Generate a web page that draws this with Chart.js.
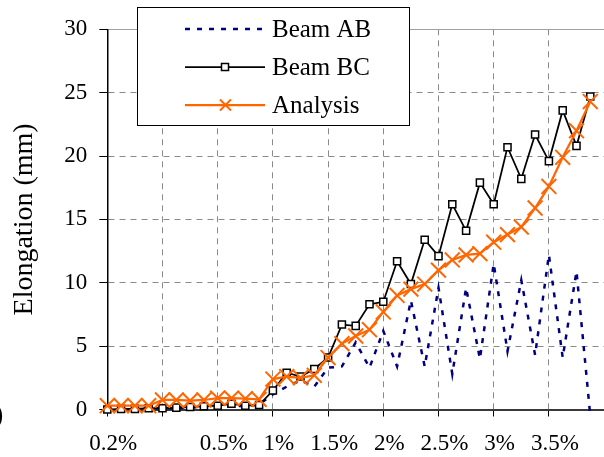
<!DOCTYPE html>
<html><head><meta charset="utf-8">
<script src="https://cdn.jsdelivr.net/npm/chart.js@4.4.1/dist/chart.umd.min.js"></script>
<style>
html,body{margin:0;padding:0;overflow:hidden;background:#fff;width:604px;height:457px}
#wrap{width:604px;height:457px;overflow:hidden;position:relative}
canvas{display:block}
</style></head>
<body><div id="wrap"><canvas id="c" width="617" height="457" style="width:617px;height:457px"></canvas></div>
<script>
// Category labels (drift steps); blanks are unlabelled steps
const categories = ['0.2%','','','','','','','','0.5%','','','','1%','','','','1.5%','','','','2%','','','','2.5%','','','','3%','','','','3.5%','','','',''];
const beamAB = [0, 0, 0.05, 0.05, 0.1, 0.1, 0.15, 0.2, 0.1, 0.3, 0.25, 0.4, 1.2, 1.8, 2.3, 1.8, 3.3, 3.4, 5.3, 3.3, 6.2, 3.4, 8.6, 3.4, 9.6, 2.8, 9.6, 4.0, 11.5, 4.6, 10.2, 4.3, 12.2, 4.1, 10.9, -0.5];
const beamBC = [0, 0.05, 0.05, 0.1, 0.1, 0.15, 0.2, 0.25, 0.3, 0.45, 0.3, 0.35, 1.5, 2.9, 2.6, 3.2, 4.1, 6.7, 6.6, 8.3, 8.5, 11.7, 9.9, 13.4, 12.1, 16.2, 14.1, 17.9, 16.2, 20.7, 18.2, 21.7, 19.6, 23.6, 20.8, 24.7];
const analysis = [0.3, 0.3, 0.3, 0.3, 0.75, 0.75, 0.7, 0.75, 0.9, 0.9, 0.85, 0.8, 2.4, 2.6, 2.5, 2.7, 4.1, 5.2, 5.8, 6.3, 7.7, 9.0, 9.5, 9.9, 11.0, 11.8, 12.2, 12.3, 13.2, 13.8, 14.4, 15.9, 17.6, 19.9, 22.0, 24.3];
const seriesNames = ['Beam AB', 'Beam BC', 'Analysis'];
const yMin = 0, yMax = 30, yStep = 5;

const FONT = '"Liberation Serif", "Times New Roman", serif';
const GRID = '#8a8a8a';
const CLEAR = 'rgba(0,0,0,0)';
const CANVAS_W = 617, PLOT_LEFT = 107.3, PLOT_RIGHT = 604.1, PLOT_TOP = 29.3, PLOT_BOTTOM = 409.5, CANVAS_H = 457;

const boxLegend = {
  id: 'boxLegend',
  afterDraw(chart) {
    const ctx = chart.ctx;
    ctx.save();
    ctx.fillStyle = '#fff';
    ctx.fillRect(137.5, 7.5, 272, 118);
    ctx.strokeStyle = '#000'; ctx.lineWidth = 1;
    ctx.strokeRect(137.5, 7.5, 272, 118);
    const rows = [29, 67, 105];
    chart.data.datasets.forEach((ds, i) => {
      const y = rows[i];
      ctx.save();
      ctx.strokeStyle = ds.borderColor; ctx.lineWidth = ds.borderWidth;
      ctx.setLineDash(ds.borderDash || []);
      ctx.beginPath(); ctx.moveTo(185, y); ctx.lineTo(265, y); ctx.stroke();
      ctx.restore();
      if (ds.pointStyle === 'rect') {
        ctx.fillStyle = '#fff'; ctx.strokeStyle = '#000'; ctx.lineWidth = 1.5;
        ctx.fillRect(221.5, y - 3.5, 7, 7); ctx.strokeRect(221.5, y - 3.5, 7, 7);
      } else if (ds.pointStyle === 'crossRot') {
        ctx.strokeStyle = ds.borderColor; ctx.lineWidth = 2;
        ctx.beginPath();
        ctx.moveTo(220, y - 5.5); ctx.lineTo(231, y + 5.5);
        ctx.moveTo(231, y - 5.5); ctx.lineTo(220, y + 5.5);
        ctx.stroke();
      }
      ctx.fillStyle = '#000';
      ctx.font = '25px ' + FONT;
      ctx.textBaseline = 'middle'; ctx.textAlign = 'left';
      ctx.fillText(ds.label, 272, y + 1);
    });
    ctx.font = '28px ' + FONT;
    ctx.fillText(')', -6, 416);
    ctx.restore();
  }
};

new Chart(document.getElementById('c'), {
  type: 'line',
  data: {
    labels: categories,
    datasets: [
      {label: seriesNames[0], data: beamAB, borderColor: '#000080', borderWidth: 2.5, borderDash: [5, 7],
       pointRadius: 0, pointHoverRadius: 0, tension: 0, clip: false, order: 2, fill: false},
      {label: seriesNames[1], data: beamBC, borderColor: '#000', borderWidth: 1.75, pointStyle: 'rect',
       pointRadius: 5, pointHoverRadius: 5, pointBorderWidth: 1.5, pointBorderColor: '#000', pointBackgroundColor: '#fff',
       tension: 0, clip: false, order: 1, fill: false},
      {label: seriesNames[2], data: analysis, borderColor: '#ff6600', borderWidth: 2.25, pointStyle: 'crossRot',
       pointRadius: 10.5, pointHoverRadius: 10.5, pointBorderWidth: 2, pointBorderColor: '#ff6600', pointBackgroundColor: '#ff6600',
       tension: 0, clip: false, order: 0, fill: false}
    ]
  },
  options: {
    responsive: false, animation: false, devicePixelRatio: 1, events: [],
    layout: {padding: {top: PLOT_TOP, right: CANVAS_W - PLOT_RIGHT, left: 0, bottom: 0}},
    plugins: {legend: {display: false}, tooltip: {enabled: false}},
    scales: {
      x: {
        type: 'category', offset: false,
        grid: {
          color: c => (c.index % 4 === 0 && c.index > 0) ? GRID : CLEAR,
          tickColor: c => (c.index % 4 === 0) ? '#000' : CLEAR,
          tickLength: 7, lineWidth: 1, drawOnChartArea: true, drawTicks: true
        },
        border: {display: true, color: '#3a3a3a', width: 2, dash: [6, 5]},
        ticks: {autoSkip: false, maxRotation: 0, minRotation: 0, labelOffset: 6, padding: 14, color: '#000',
                font: {family: FONT, size: 23}},
        afterFit: s => { s.height = CANVAS_H - PLOT_BOTTOM; s.paddingLeft = 0; s.paddingRight = 0; s.paddingTop = 0; s.paddingBottom = 0; }
      },
      y: {
        min: yMin, max: yMax,
        ticks: {stepSize: yStep, padding: 12, color: '#000', font: {family: FONT, size: 23}},
        grid: {color: c => (c.tick && c.tick.value === yMax) ? '#a0a0a0' : GRID, tickColor: '#000', tickLength: 8, lineWidth: 1},
        border: {display: true, color: '#000', width: 1.5, dash: c => (c.tick && c.tick.value === yMax) ? [] : [6, 5]},
        title: {display: true, text: 'Elongation (mm)', color: '#000', font: {family: FONT, size: 28}, padding: {top: 8, bottom: 0}},
        afterFit: s => { s.width = PLOT_LEFT; s.paddingTop = 0; s.paddingBottom = 0; s.paddingLeft = 0; s.paddingRight = 0; }
      }
    }
  },
  plugins: [boxLegend]
});
</script>
</body></html>
